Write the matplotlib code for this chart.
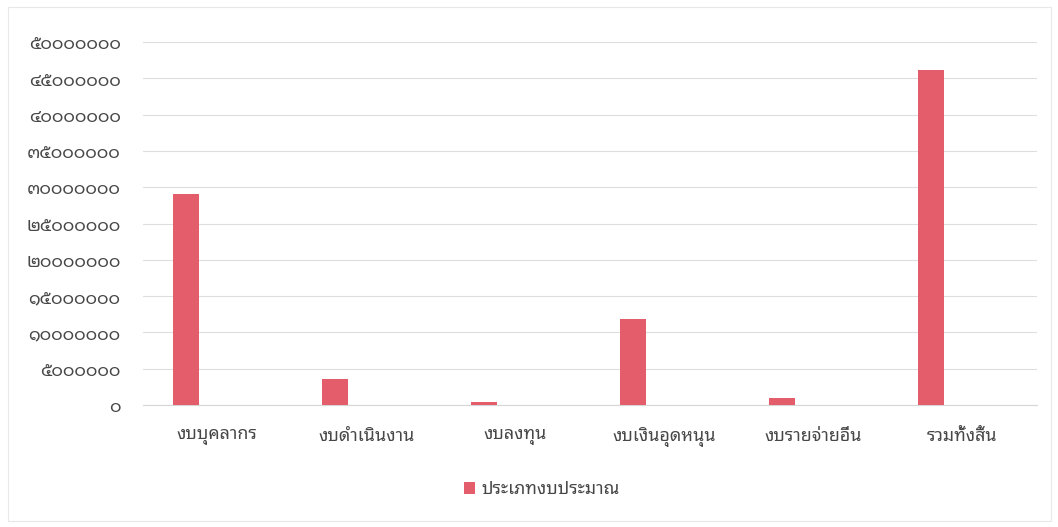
import numpy as np
import matplotlib
matplotlib.use("Agg")
import matplotlib.pyplot as plt
from matplotlib.patches import Rectangle
from matplotlib.ticker import FuncFormatter

plt.rcParams['font.family'] = ['Noto Sans Thai Looped', 'DejaVu Sans']

categories = ['งบบุคลากร', 'งบดำเนินงาน', 'งบลงทุน', 'งบเงินอุดหนุน', 'งบรายจ่ายอื่น', 'รวมทั้งสิ้น']
budget = [29100000, 3600000, 400000, 11900000, 900000, 46200000]
series_name = 'ประเภทงบประมาณ'

THAI_DIGITS = str.maketrans('0123456789', '๐๑๒๓๔๕๖๗๘๙')


def thai_number(v, pos=None):
    return str(int(round(v))).translate(THAI_DIGITS)


bar_color = '#e35d6a'
text_color = '#474747'

fig = plt.figure(figsize=(10.58, 5.27), dpi=100)
ax = fig.add_axes([0.135, 0.2315, 0.845, 0.6885])

x = np.arange(len(categories))
ax.bar(x - 0.21, budget, width=0.18, color=bar_color, label=series_name, zorder=3)

ax.set_xlim(-0.5, len(categories) - 0.5)
ax.set_ylim(0, 50000000)
ax.set_yticks(np.arange(0, 50000001, 5000000))
ax.yaxis.set_major_formatter(FuncFormatter(thai_number))
ax.set_xticks(x)
ax.set_xticklabels(categories)

ax.grid(axis='y', color='#dedede', linewidth=0.8, zorder=0)
for s in ax.spines.values():
    s.set_visible(False)
ax.spines['bottom'].set_visible(True)
ax.spines['bottom'].set_color('#d6d6d6')
ax.tick_params(axis='both', length=0, colors=text_color, labelsize=12.8)
ax.tick_params(axis='y', pad=16)
ax.tick_params(axis='x', pad=16)

fig.legend(loc='center', bbox_to_anchor=(0.512, 0.072), frameon=False,
           fontsize=12.8, labelcolor=text_color, handlelength=0.65, handleheight=0.65,
           handletextpad=0.35)

fig.patches.append(Rectangle((0.008, 0.012), 0.985, 0.975, transform=fig.transFigure,
                             fill=False, edgecolor='#e8e8e8', linewidth=0.8))

fig.savefig('out.png', dpi=100)
